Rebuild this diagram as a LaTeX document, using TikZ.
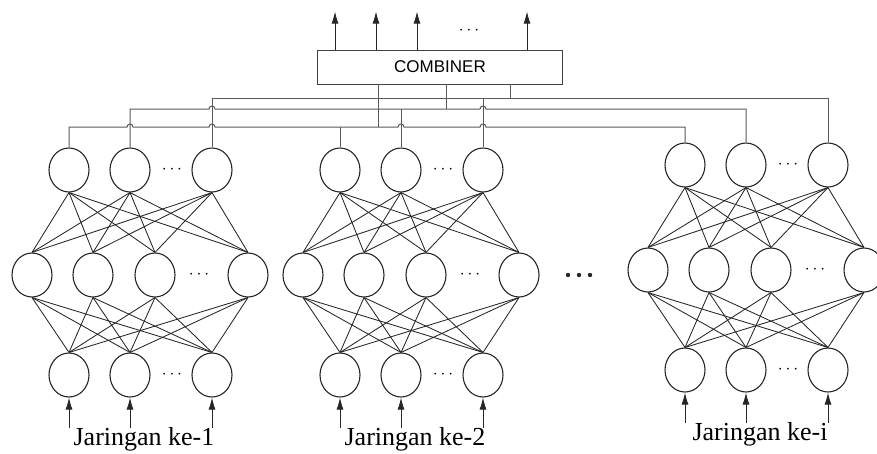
\documentclass[tikz,border=0pt]{standalone}
\usepackage{fontspec}
\setmainfont{Liberation Serif}
\newfontfamily\combfont{Liberation Sans}
\usetikzlibrary{shapes.geometric,arrows.meta,calc}
% hop of a bus line over a vertical wire
\newcommand{\hop}[2]{-- ($(#1.north |- #2)+(-3pt,0pt)$) arc[start angle=180,end angle=0,radius=3pt]}
% one network: output, hidden and input layer
\newcommand{\jaringan}[2]{%
  \foreach \x [count=\j] in {69,130,212} {
    \node[neuron] (o#1\j) at (\x,170) {};
    \node[neuron] (i#1\j) at (\x,375) {};
  }
  \foreach \x [count=\j] in {32,93,155,248}
    \node[neuron] (h#1\j) at (\x,275) {};
  \node[titik] (do#1) at (172,170) {$\cdots$};
  \node[titik] (dh#1) at (199,275) {$\cdots$};
  \node[titik] (di#1) at (172,375) {$\cdots$};
  \foreach \a in {1,2,3}
    \foreach \b in {1,...,4} {
      \draw[sambung] (o#1\a.south) -- (h#1\b.north);
      \draw[sambung] (h#1\b.south) -- (i#1\a.north);
    }
  \foreach \a in {1,2,3}
    \draw[inarrow] ([yshift=-30pt]i#1\a.south) -- (i#1\a.south);
  \node[judul] (lbl#1) at (144,445) {#2};
}

\begin{document}
\begin{tikzpicture}[x=1pt,y=-1pt,
  neuron/.style={draw=black!85,ellipse,minimum width=40pt,minimum height=44pt,inner sep=0pt,line width=1.1pt},
  sambung/.style={black!85,line width=0.85pt},
  bus/.style={black!65,line width=1pt},
  inarrow/.style={black!85,line width=0.9pt,-{Latex[length=12pt,width=7pt]}},
  outarrow/.style={black!85,line width=0.9pt,-{Latex[length=12pt,width=7pt]}},
  kotak/.style={draw=black!75,line width=0.9pt,minimum width=245pt,minimum height=34pt,inner sep=0pt,font=\combfont\fontsize{17}{17}\selectfont},
  titik/.style={inner sep=0pt,font=\fontsize{18}{18}\selectfont},
  judul/.style={anchor=base,inner sep=0pt,font=\fontsize{26}{30}\selectfont}]
  \useasboundingbox (0,0) rectangle (877,453);
  % ---------- networks ----------
  \jaringan{1}{Jaringan ke-1}
  \begin{scope}[shift={(271,0)}]
    \jaringan{2}{Jaringan ke-2}
  \end{scope}
  \begin{scope}[shift={(616,-5)}]
    \jaringan{3}{Jaringan ke-i}
  \end{scope}
  \foreach \x in {568,579,590}
    \fill[black!85] (\x,275) circle (2.2pt);
  % ---------- combiner ----------
  \node[kotak] (comb) at (440,67) {COMBINER};
  \foreach \dx in {-105,-64,-23,87}
    \draw[outarrow] ([xshift=\dx pt]comb.north) -- ++(0,-38);
  \node[titik] (dout) at (469,31) {$\cdots$};
  % ---------- buses ----------
  \coordinate (busA) at (0,127);
  \coordinate (busB) at (0,109);
  \coordinate (busC) at (0,98);
  \draw[bus] (o11.north) -- (o11.north |- busA) \hop{o12}{busA} \hop{o13}{busA}
    \hop{o22}{busA} \hop{o23}{busA} -- (o31.north |- busA) -- (o31.north);
  \draw[bus] (o12.north) -- (o12.north |- busB) \hop{o13}{busB} \hop{o23}{busB}
    -- (o32.north |- busB) -- (o32.north);
  \draw[bus] (o13.north) -- (o13.north |- busC) -- (o33.north |- busC) -- (o33.north);
  \draw[bus] (o21.north) -- (o21.north |- busA);
  \draw[bus] (o22.north) -- (o22.north |- busB);
  \draw[bus] (o23.north) -- (o23.north |- busC);
  \draw[bus] ([xshift=-62pt]comb.south) coordinate (m1) -- (m1 |- busA);
  \draw[bus] ([xshift=6pt]comb.south) coordinate (m2) -- (m2 |- busB);
  \draw[bus] ([xshift=70pt]comb.south) coordinate (m3) -- (m3 |- busC);
\end{tikzpicture}
\end{document}
